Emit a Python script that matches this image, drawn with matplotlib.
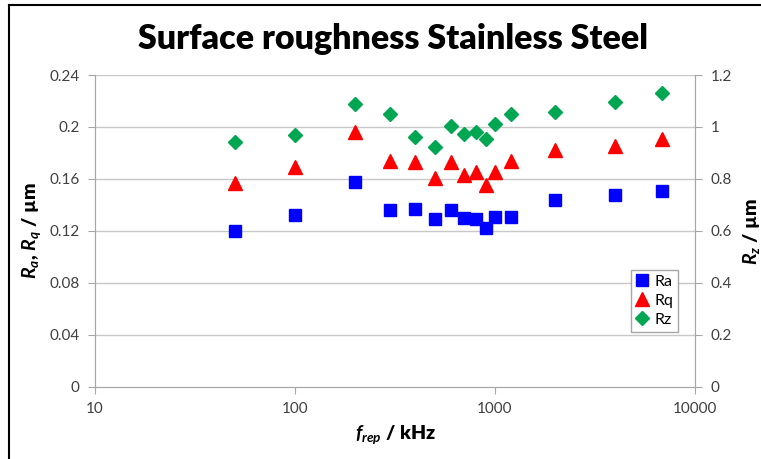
import matplotlib
matplotlib.use("Agg")
import matplotlib.pyplot as plt
from matplotlib.lines import Line2D

# Data
f_rep = [50, 100, 200, 300, 400, 500, 600, 700, 800, 900, 1000, 1200, 2000, 4000, 6800]
ra = [0.120, 0.132, 0.158, 0.136, 0.137, 0.129, 0.136, 0.130, 0.129, 0.122, 0.131, 0.131, 0.144, 0.148, 0.151]
rq = [0.157, 0.169, 0.196, 0.174, 0.173, 0.161, 0.173, 0.163, 0.165, 0.155, 0.165, 0.174, 0.182, 0.185, 0.191]
rz = [0.941, 0.969, 1.088, 1.049, 0.963, 0.924, 1.004, 0.973, 0.982, 0.953, 1.012, 1.049, 1.058, 1.096, 1.131]

x_ticks = [10, 100, 1000, 10000]
left_ticks = [0, 0.04, 0.08, 0.12, 0.16, 0.2, 0.24]
right_ticks = [0, 0.2, 0.4, 0.6, 0.8, 1.0, 1.2]

plt.rcParams['font.family'] = ['Lato', 'DejaVu Sans']
plt.rcParams['mathtext.fontset'] = 'custom'
plt.rcParams['mathtext.it'] = 'Lato:italic:bold'
plt.rcParams['mathtext.rm'] = 'Lato:bold'

axis_gray = '#a6a6a6'
text_gray = '#404040'

fig = plt.figure(figsize=(7.61, 4.59), dpi=100)
ax = fig.add_axes([0.1248, 0.1569, 0.7885, 0.6797])
ax2 = ax.twinx()

# outer frame (left and top edges visible)
fig.add_artist(Line2D([9 / 761, 9 / 761], [0, 1 - 5 / 459], color='black', lw=1.5))
fig.add_artist(Line2D([9 / 761, 1], [1 - 5 / 459, 1 - 5 / 459], color='black', lw=1.5))

ax.set_xscale('log')
ax.set_xlim(10, 10000)
ax.set_ylim(0, 0.24)
ax2.set_ylim(0, 1.2)

for y in left_ticks[1:]:
    ax.axhline(y, color='#c8c8c8', lw=1, zorder=0)

h_ra, = ax.plot(f_rep, ra, 's', color='#0000ff', ms=8.5, ls='none', zorder=3)
h_rq, = ax.plot(f_rep, rq, '^', color='#ff0000', ms=9.5, ls='none', zorder=3)
h_rz, = ax2.plot(f_rep, rz, 'D', color='#00a651', ms=7, ls='none', zorder=3)

ax.set_xticks(x_ticks)
ax.set_xticklabels([str(t) for t in x_ticks])
ax.xaxis.set_minor_locator(matplotlib.ticker.NullLocator())
ax.set_yticks(left_ticks)
ax.set_yticklabels(['%g' % t for t in left_ticks])
ax2.set_yticks(right_ticks)
ax2.set_yticklabels(['%g' % t for t in right_ticks])

for a in (ax, ax2):
    a.spines['top'].set_visible(False)
    for s in ('left', 'right', 'bottom'):
        a.spines[s].set_color(axis_gray)
    a.tick_params(colors=axis_gray, labelcolor=text_gray, labelsize=11, length=5, pad=6)

ax.set_xlabel(r'$f_{rep}$ / kHz', fontsize=14, fontweight='heavy', color='black', labelpad=5)
ax.set_ylabel(r'$R_a$, $R_q$ / µm', fontsize=14, fontweight='heavy', color='black', labelpad=5)
ax2.set_ylabel(r'$R_z$ / µm', fontsize=14, fontweight='heavy', color='black', labelpad=7)

fig.suptitle('Surface roughness Stainless Steel', fontsize=24.5, fontweight='heavy',
             x=0.517, y=0.95)

ax2.legend(handles=[h_ra, h_rq, h_rz], labels=['Ra', 'Rq', 'Rz'], loc='upper right',
           bbox_to_anchor=(0.972, 0.375), fontsize=11.5, frameon=True, fancybox=False,
           handlelength=0.8, handletextpad=0.4, borderpad=0.3, labelspacing=0.3,
           borderaxespad=0, edgecolor=axis_gray, framealpha=1)

fig.savefig('out.png', dpi=100)
